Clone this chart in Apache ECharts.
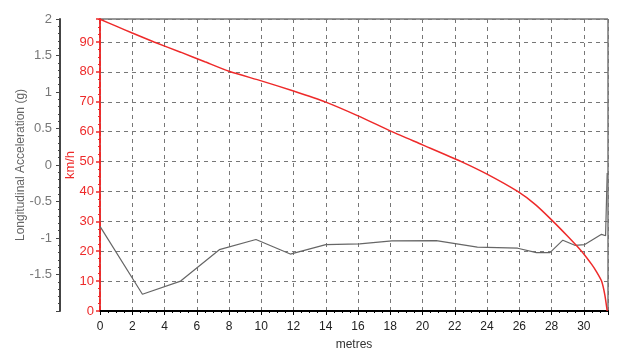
<!DOCTYPE html>
<html>
<head>
<meta charset="utf-8">
<script src="https://cdn.jsdelivr.net/npm/echarts@6/dist/echarts.min.js"></script>
<style>
  html, body { margin: 0; padding: 0; background: #fff; }
  #chart { width: 640px; height: 356px; }
</style>
</head>
<body>
<div id="chart"></div>
<script>
// speed trace (km/h) against distance (metres)
const speedDist = [0, 1, 2, 3.35, 5, 6.5, 8, 10, 12, 14, 16, 18.1, 20, 22.4, 24, 25.9, 27, 28, 29, 29.86, 30.5, 30.8, 31.1, 31.3, 31.45];
const speedKmh = [97.6, 95.3, 93, 90, 86.6, 83.4, 80.2, 77.0, 73.6, 69.9, 65.3, 60, 55.6, 50, 45.8, 40, 35.6, 30.5, 25, 20, 15.5, 13, 10, 5.5, 0];

// longitudinal acceleration (g) against distance (metres)
const accelDist = [0, 2.63, 5.0, 7.4, 9.67, 11.8, 14.0, 16.1, 18.1, 20.85, 23.4, 25.9, 27.06, 27.9, 28.7, 29.44, 30.06, 31.1, 31.35, 31.45, 31.45];
const accelG = [-0.84, -1.77, -1.59, -1.16, -1.02, -1.22, -1.09, -1.08, -1.04, -1.035, -1.125, -1.14, -1.2, -1.2, -1.03, -1.1, -1.09, -0.95, -0.97, -0.98, -0.11];

const xMax = 31.5;
const speedMax = 97.7;

const speedData = speedDist.map((d, i) => [d, speedKmh[i]]);
const accelData = accelDist.map((d, i) => [d, accelG[i]]);

const chart = echarts.init(document.getElementById("chart"));
const font = "'Liberation Sans', Arial, sans-serif";

chart.setOption({
  animation: false,
  textStyle: { fontFamily: font },
  grid: {
    left: 100, right: 32, top: 19, bottom: 43,
    show: true, borderColor: "#333", borderWidth: 1
  },
  xAxis: {
    type: "value",
    min: 0, max: xMax, interval: 2,
    name: "metres", nameLocation: "middle", nameGap: 28, nameMoveOverlap: false,
    nameTextStyle: { color: "#333", fontSize: 12, fontFamily: font },
    axisLine: { onZero: false, lineStyle: { color: "#000", width: 2 } },
    axisTick: { lineStyle: { color: "#000" }, length: 4 },
    minorTick: { show: true, splitNumber: 4, length: 2, lineStyle: { color: "#000" } },
    axisLabel: { color: "#222", fontSize: 12, showMaxLabel: false, margin: 10 },
    splitLine: { show: true, lineStyle: { color: "#777", type: [4, 4] } }
  },
  yAxis: [
    {
      type: "value",
      min: 0, max: speedMax, interval: 10,
      position: "left",
      name: "km/h", nameLocation: "middle", nameGap: 23, nameRotate: 90, nameMoveOverlap: false,
      nameTextStyle: { color: "#ee2a2a", fontSize: 13, fontFamily: font },
      axisLine: { show: true, lineStyle: { color: "#ee2a2a", width: 2, type: [5, 2] } },
      axisTick: { show: true, length: 4, lineStyle: { color: "#ee2a2a", width: 1.5 } },
      minorTick: { show: true, splitNumber: 4, length: 2, lineStyle: { color: "#ee2a2a" } },
      axisLabel: { color: "#ee2a2a", fontSize: 13, showMaxLabel: false, margin: 6 },
      splitLine: { show: true, lineStyle: { color: "#777", type: [4, 4] } }
    },
    {
      type: "value",
      min: -2, max: 2, interval: 0.5,
      position: "left", offset: 40,
      name: "Longitudinal Acceleration (g)", nameLocation: "middle", nameGap: 33, nameRotate: 90, nameMoveOverlap: false,
      nameTextStyle: { color: "#666", fontSize: 12, fontFamily: font },
      axisLine: { show: true, lineStyle: { color: "#444", width: 2 } },
      axisTick: { show: true, length: 4, lineStyle: { color: "#444" } },
      minorTick: { show: true, splitNumber: 5, length: 2, lineStyle: { color: "#444" } },
      axisLabel: { color: "#777", fontSize: 13, showMinLabel: false, margin: 8 },
      splitLine: { show: false }
    }
  ],
  series: [
    {
      name: "Speed", type: "line", yAxisIndex: 0,
      data: speedData, smooth: 0.2, showSymbol: false,
      lineStyle: { color: "#ee2a2a", width: 1.5 }, z: 3
    },
    {
      name: "Longitudinal Acceleration", type: "line", yAxisIndex: 1,
      data: accelData, showSymbol: false,
      lineStyle: { color: "#666", width: 1.2 }, z: 2
    }
  ]
});
</script>
</body>
</html>
